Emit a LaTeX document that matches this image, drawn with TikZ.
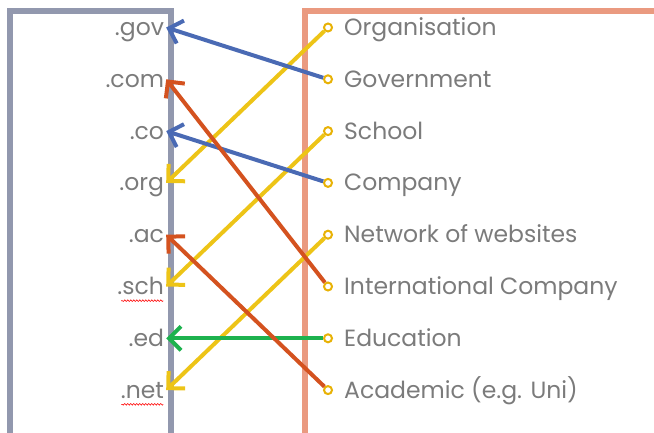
\documentclass[tikz,border=0pt]{standalone}
\usepackage{fontspec}
\setmainfont{Poppins}
\usepackage{tikz}
\usetikzlibrary{arrows.meta}
\usetikzlibrary{positioning}
\usetikzlibrary{decorations.pathmorphing}
\usepackage{color}

\definecolor{boxgrey}{HTML}{9298AE}
\definecolor{boxsalmon}{HTML}{EA9A80}
\definecolor{txtgrey}{HTML}{7B7B7B}
\definecolor{ringgold}{HTML}{E8B206}
\definecolor{linkyellow}{HTML}{EDC417}
\definecolor{linkblue}{HTML}{4A6AB4}
\definecolor{linkred}{HTML}{D4521F}
\definecolor{linkgreen}{HTML}{1DB24E}

\begin{document}
\begin{tikzpicture}[x=1pt,y=-1pt,node distance=51.8pt,
					  >={Straight Barb[length=12pt,width=24pt]},
					  dom node/.style={text width=60pt,align=right,inner sep=2pt,text height=16pt,text depth=0pt,
					    text=txtgrey,font=\fontsize{23.5}{26}\selectfont},
					  dot node/.style={circle,draw=ringgold,fill=white,line width=2pt,minimum size=8pt,inner sep=0pt},
					  item/.style={text=txtgrey,font=\fontsize{23.5}{26}\selectfont,text height=16pt,text depth=0pt,
					    inner sep=2pt,label distance=9pt},
					  link/.style={line width=4pt,draw=#1},
					  squig/.style={draw=red,line width=0.6pt,decorate,
					    decoration={snake,amplitude=0.8pt,segment length=3pt}}]
					
					  \useasboundingbox (0,0) rectangle (654,433);
					
					  % the two boxes
					  \draw[boxgrey,line width=6pt] (10,433) -- (10,11.5) -- (170.5,11.5) -- (170.5,433);
					  \draw[boxsalmon,line width=6pt] (305,433) -- (305,11.5) -- (660,11.5);
					
					  % domains
					  \node[dom node] (gov) at (134,27.5) {.gov};
					  \node[dom node] (com) [below of=gov] {.com};
					  \node[dom node] (co) [below of=com] {.co};
					  \node[dom node] (org) [below of=co] {.org};
					  \node[dom node] (ac) [below of=org] {.ac};
					  \node[dom node] (sch) [below of=ac] {.sch};
					  \node[dom node] (ed) [below of=sch] {.ed};
					  \node[dom node] (net) [below of=ed] {.net};
					
					  \draw[squig] ([shift={(-3,4)}]sch.south east) -- ++(-42,0);
					  \draw[squig] ([shift={(-3,4)}]net.south east) -- ++(-42,0);
					
					  % meanings
					  \node[dot node,label={[item]right:Organisation}] (organ) at (328,27.5) {};
					  \node[dot node,label={[item]right:Government}] (govt) [below of=organ] {};
					  \node[dot node,label={[item]right:School}] (school) [below of=govt] {};
					  \node[dot node,label={[item]right:Company}] (comp) [below of=school] {};
					  \node[dot node,label={[item]right:Network of websites}] (netw) [below of=comp] {};
					  \node[dot node,label={[item]right:International Company}] (intl) [below of=netw] {};
					  \node[dot node,label={[item]right:Education}] (edu) [below of=intl] {};
					  \node[dot node,label={[item]right:Academic (e.g. Uni)}] (acad) [below of=edu] {};
					
					  \path[->]
					    (organ) edge[link=linkyellow] (org.east)
					    (govt) edge[link=linkblue] (gov.east)
					    (school) edge[link=linkyellow] (sch.east)
					    (comp) edge[link=linkblue] (co.east)
					    (netw) edge[link=linkyellow] (net.east)
					    (intl) edge[link=linkred] (com.east)
					    (edu) edge[link=linkgreen] (ed.east)
					    (acad) edge[link=linkred] (ac.east)
					;
					\end{tikzpicture}
\end{document}
